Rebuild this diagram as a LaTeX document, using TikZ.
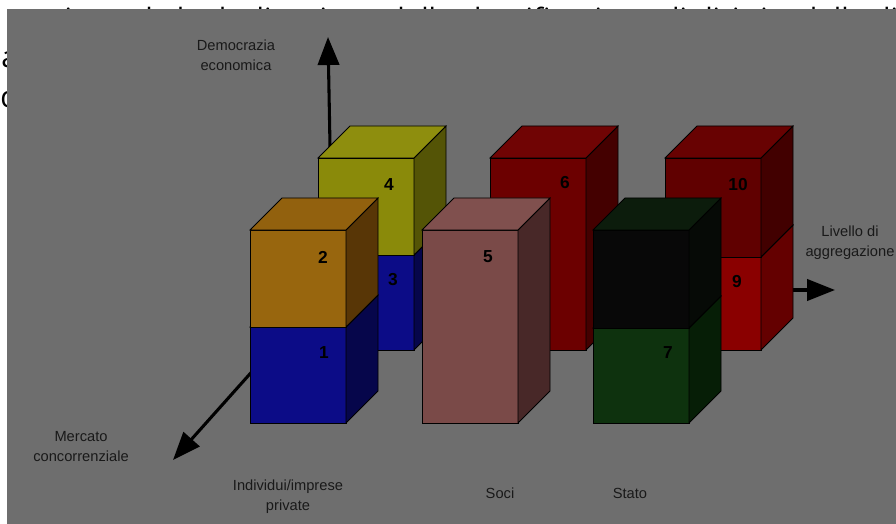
\documentclass[tikz,border=0pt]{standalone}
\usepackage{fontspec}
\setmainfont{Liberation Sans}
\newfontfamily\bgfont{Open Sans}
\usetikzlibrary{arrows.meta}
\definecolor{bg}{RGB}{110,110,110}
\definecolor{orF}{RGB}{152,102,14}\definecolor{orT}{RGB}{146,97,14}\definecolor{orS}{RGB}{88,54,6}
\definecolor{blF}{RGB}{12,12,135}\definecolor{blT}{RGB}{14,14,128}\definecolor{blS}{RGB}{6,6,75}
\definecolor{yeF}{RGB}{138,138,10}\definecolor{yeT}{RGB}{142,142,14}\definecolor{yeS}{RGB}{84,84,6}
\definecolor{piF}{RGB}{122,74,72}\definecolor{piT}{RGB}{128,80,78}\definecolor{piS}{RGB}{72,40,40}
\definecolor{rsF}{RGB}{108,0,0}\definecolor{rsT}{RGB}{112,4,4}\definecolor{rsS}{RGB}{68,0,0}
\definecolor{rtF}{RGB}{96,0,0}\definecolor{rtT}{RGB}{104,2,2}\definecolor{rtS}{RGB}{66,0,0}
\definecolor{rnF}{RGB}{138,0,0}\definecolor{rnS}{RGB}{100,0,0}
\definecolor{bkF}{RGB}{8,8,8}\definecolor{bkT}{RGB}{12,28,12}\definecolor{bkS}{RGB}{6,10,6}
\definecolor{grF}{RGB}{14,50,14}\definecolor{grS}{RGB}{6,30,6}
% #1 x, #2 y top, #3 height, #4 front, #5 top face, #6 side
\newcommand\boxpart[6]{%
  \begin{scope}[shift={(#1,#2)}]
    \filldraw[fill=#4,edge] (0,0) rectangle (96,#3);
    \filldraw[fill=#6,edge] (96,0) -- (128,-32) -- (128,{#3-32}) -- (96,#3) -- cycle;
    \filldraw[fill=#5,edge] (0,0) -- (32,-32) -- (128,-32) -- (96,0) -- cycle;
  \end{scope}}
\begin{document}
\begin{tikzpicture}[x=0.75pt,y=-0.75pt,
  edge/.style={draw=black,line width=0.6pt},
  axis/.style={draw=black,line width=2.3pt,-{Triangle[length=21pt,width=16pt]}},
  lab/.style={font=\fontsize{11}{15}\selectfont,align=center,text=black!90,inner sep=0pt},
  num/.style={font=\fontsize{13}{15}\selectfont\bfseries,text=black,inner sep=0pt},
  bgtext/.style={font=\bgfont\fontsize{22}{30}\selectfont,anchor=base west,inner sep=0pt}]
\useasboundingbox (0,0) rectangle (896,524);
\fill[white] (0,0) rectangle (896,524);
% text partly hidden behind the panel
\node[bgtext] (t1) at (12,30) {sottintende la declinazione della classificazione di diritti e delle di};
\node[bgtext] (t2) at (1,68) {a};
\node[bgtext] (t3) at (0,108) {d};
\fill[bg] (7,9) rectangle (896,524);
% vertical axis
\coordinate (vs) at (331,200);
\coordinate (vt) at (328,37);
\draw[axis] (vs) -- (vt);
\node[lab] (ldem) at (236,55) {Democrazia\\economica};
% back row
\boxpart{318}{255}{95}{blF}{blT}{blS}
\boxpart{318}{158}{97}{yeF}{yeT}{yeS}
\node[num] (n3) at (393,280) {3};
\node[num] (n4) at (389,185) {4};
\boxpart{490}{158}{192}{rsF}{rsT}{rsS}
\node[num] (n6) at (565,183) {6};
% right axis
\coordinate (rs) at (770,290);
\coordinate (rt) at (835,290);
\draw[axis] (rs) -- (rt);
\boxpart{665}{257}{93}{rnF}{rnF}{rnS}
\boxpart{665}{158}{99}{rtF}{rtT}{rtS}
\node[num] (n10) at (738,185) {10};
\node[num] (n9) at (737,282) {9};
\node[lab] (lliv) at (850,243) {Livello di\\aggregazione};
% diagonal axis
\coordinate (ds) at (265,357);
\coordinate (dt) at (173,460);
\draw[axis] (ds) -- (dt);
\node[lab] (lmer) at (81,447) {Mercato\\concorrenziale};
% front row
\boxpart{250}{327}{96}{blF}{blT}{blS}
\boxpart{250}{230}{97}{orF}{orT}{orS}
\node[num] (n2) at (323,257) {2};
\node[num] (n1) at (324,353) {1};
\boxpart{422}{230}{193}{piF}{piT}{piS}
\node[num] (n5) at (488,257) {5};
\boxpart{593}{328}{95}{grF}{grF}{grS}
\boxpart{593}{230}{98}{bkF}{bkT}{bkS}
\node[num] (n7) at (668,353) {7};
% bottom labels
\node[lab] (lind) at (288,497) {Individui/imprese\\private};
\node[lab] (lsoc) at (500,493) {Soci};
\node[lab] (lsta) at (630,493) {Stato};
\end{tikzpicture}
\end{document}
